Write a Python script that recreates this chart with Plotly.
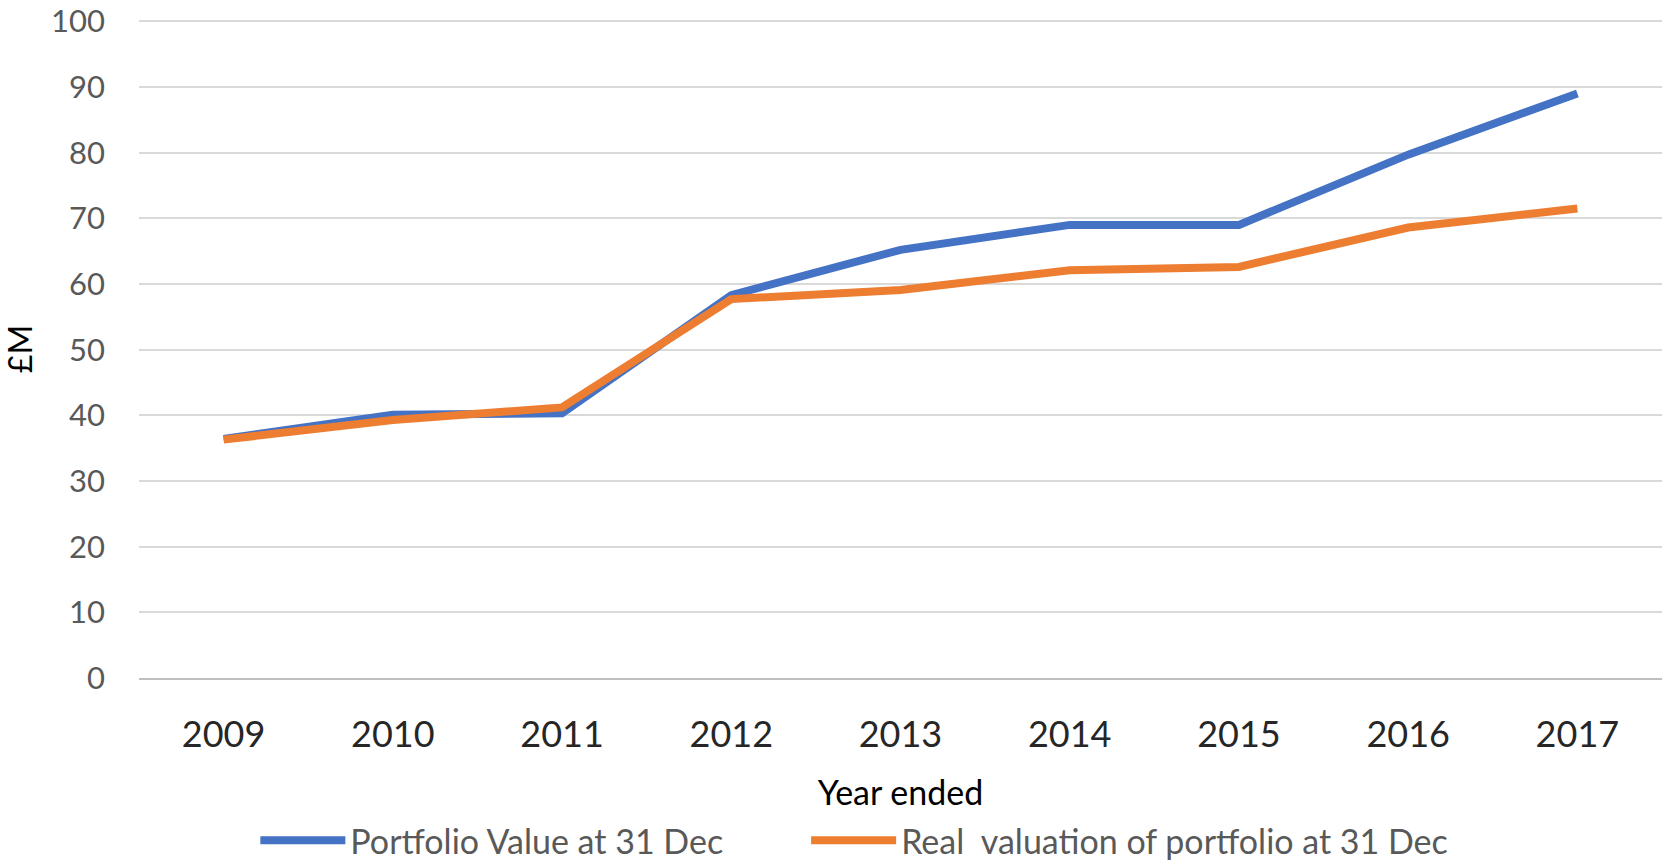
import plotly.graph_objects as go

years = ["2009", "2010", "2011", "2012", "2013", "2014", "2015", "2016", "2017"]
portfolio_value = [36.4, 40.1, 40.3, 58.3, 65.2, 69.0, 69.0, 79.7, 89.0]
real_valuation = [36.3, 39.3, 41.2, 57.7, 59.1, 62.1, 62.6, 68.6, 71.5]

FONT = "Lato, 'Open Sans', sans-serif"

fig = go.Figure()
fig.add_trace(go.Scatter(
    x=years, y=portfolio_value, mode="lines",
    name="Portfolio Value at 31 Dec",
    line=dict(color="#4472C4", width=8),
    legend="legend",
))
fig.add_trace(go.Scatter(
    x=years, y=real_valuation, mode="lines",
    name="Real  valuation of portfolio at 31 Dec",
    line=dict(color="#ED7D31", width=8),
    legend="legend2",
))

legend_common = dict(
    orientation="h",
    xref="container", yref="container",
    xanchor="left",
    y=0.027, yanchor="middle",
    font=dict(size=34, color="#595959"),
    itemwidth=85,
    bgcolor="rgba(0,0,0,0)",
)

fig.update_layout(
    width=1669, height=864,
    paper_bgcolor="white", plot_bgcolor="white",
    margin=dict(l=139, r=7, t=20, b=186, autoexpand=False),
    font=dict(family=FONT, color="#595959"),
    xaxis=dict(
        type="category",
        range=[-0.5, 8.5],
        showgrid=False,
        showline=True, linecolor="#bfbfbf", linewidth=2,
        tickfont=dict(size=36, color="#262626"),
        ticks="", ticklabelstandoff=24,
        title=dict(text="Year ended", font=dict(size=34, color="#000000"), standoff=27),
        automargin=False,
        fixedrange=True,
    ),
    yaxis=dict(
        range=[0, 100.2], dtick=10, tick0=0,
        showgrid=True, gridcolor="#d9d9d9", gridwidth=2,
        zeroline=False, showline=False,
        tickfont=dict(size=31, color="#595959"),
        ticks="", ticklabelstandoff=33,
        title=dict(text="£M", font=dict(size=32, color="#000000"), standoff=9),
        automargin=False,
        fixedrange=True,
    ),
    legend=dict(legend_common, x=0.153),
    legend2=dict(legend_common, x=0.483),
    showlegend=True,
)

fig.write_html(
    "out.html",
    config={"displayModeBar": False},
    post_script="document.body.style.margin='0';document.body.style.overflow='hidden';",
)
